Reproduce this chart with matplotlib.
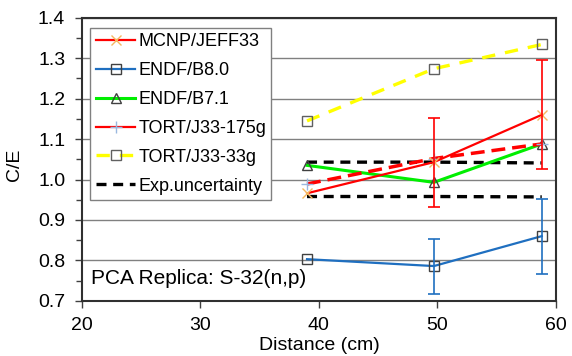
import numpy as np
import matplotlib.pyplot as plt
from matplotlib.ticker import MultipleLocator

plt.rcParams['font.family'] = ['Liberation Sans', 'DejaVu Sans']

# Data
distance = [39.0, 49.7, 58.8]
mcnp_jeff33 = [0.966, 1.043, 1.160]
mcnp_err = [0.0, 0.110, 0.135]
endf_b80 = [0.803, 0.786, 0.860]
endf_b80_err = [0.0, 0.068, 0.093]
endf_b71 = [1.035, 0.993, 1.088]
tort_175g = [0.989, 1.052, 1.088]
tort_33g = [1.145, 1.274, 1.334]
exp_upper = [1.043, 1.043, 1.041]
exp_lower = [0.958, 0.958, 0.957]

fig = plt.figure(figsize=(5.72, 3.56), dpi=100)
ax = fig.add_axes([0.143, 0.155, 0.829, 0.795])

ms = 7
ax.plot(distance, mcnp_jeff33, color='#ff0000', lw=1.6, marker='x', ms=ms,
        mec='#f5b860', mew=1.0, label='MCNP/JEFF33', zorder=4)
ax.errorbar(distance[1:], mcnp_jeff33[1:], yerr=mcnp_err[1:], fmt='none',
            ecolor='#ff0000', elinewidth=1.2, capsize=4, capthick=1.2, zorder=4)

ax.plot(distance, endf_b80, color='#1f6fc0', lw=1.6, marker='s', ms=ms,
        mfc='none', mec='#404040', mew=1.0, label='ENDF/B8.0', zorder=4)
ax.errorbar(distance[1:], endf_b80[1:], yerr=endf_b80_err[1:], fmt='none',
            ecolor='#1f6fc0', elinewidth=1.2, capsize=4, capthick=1.2, zorder=4)

ax.plot(distance, endf_b71, color='#00ee00', lw=2.2, marker='^', ms=ms,
        mfc='none', mec='#404040', mew=1.0, label='ENDF/B7.1', zorder=3)

ax.plot(distance, tort_175g, color='#ff0000', lw=2.5, ls=(0, (4, 2)),
        marker='+', ms=8, mec='#9ab8e0', mew=1.0, zorder=3)
ax.plot([], [], color='#ff0000', lw=1.6, marker='+', ms=8, mec='#9ab8e0',
        mew=1.0, label='TORT/J33-175g')

ax.plot(distance, tort_33g, color='#ffff00', lw=2.4, ls=(0, (4, 3)),
        marker='s', ms=ms, mfc='none', mec='#606060', mew=1.0,
        label='TORT/J33-33g', zorder=3)

ax.plot(distance, exp_upper, color='black', lw=2.4, ls=(0, (3, 2)),
        label='Exp.uncertainty', zorder=2)
ax.plot(distance, exp_lower, color='black', lw=2.4, ls=(0, (3, 2)), zorder=2)

ax.set_xlim(20, 60)
ax.set_ylim(0.7, 1.4)
ax.xaxis.set_major_locator(MultipleLocator(10))
ax.yaxis.set_major_locator(MultipleLocator(0.1))
ax.yaxis.set_minor_locator(MultipleLocator(0.05))
ax.yaxis.set_major_formatter(plt.FormatStrFormatter('%.1f'))
ax.grid(axis='y', which='major', color='#808080', lw=1.0)
ax.set_axisbelow(True)
ax.tick_params(which='both', direction='out', labelsize=14, length=5,
               width=1.0, color='#404040')
ax.tick_params(which='minor', length=4)
ax.tick_params(axis='x', pad=7)
ax.tick_params(axis='y', pad=7)
for s in ax.spines.values():
    s.set_color('#303030')
    s.set_linewidth(1.5)

ax.set_xlabel('Distance (cm)', fontsize=14)
ax.xaxis.set_label_coords(0.5, -0.128)
ax.set_ylabel('C/E', fontsize=14)
ax.yaxis.set_label_coords(-0.125, 0.48)

ax.text(0.019, 0.08, 'PCA Replica: S-32(n,p)', transform=ax.transAxes,
        fontsize=15, va='center', ha='left')

leg = ax.legend(loc='upper left', bbox_to_anchor=(0.018, 0.965), fontsize=13,
                frameon=True, fancybox=False, edgecolor='#808080',
                framealpha=1, handlelength=2.2, handletextpad=0.15,
                labelspacing=0.66, borderpad=0.3, borderaxespad=0)
leg.get_frame().set_linewidth(1.0)

fig.savefig('out.png', dpi=100)
